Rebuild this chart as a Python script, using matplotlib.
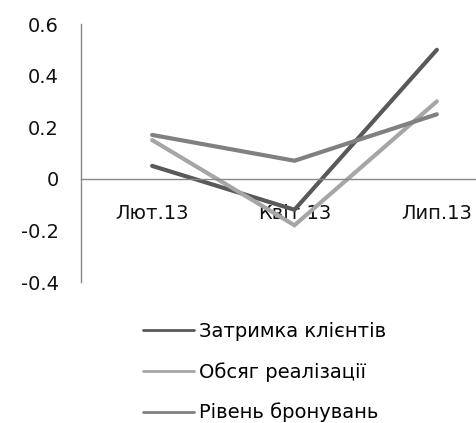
import matplotlib
matplotlib.use("Agg")
import matplotlib.pyplot as plt

categories = ["Лют.13", "Квіт.13", "Лип.13"]
series_names = ["Затримка клієнтів", "Обсяг реалізації", "Рівень бронувань"]
zatrymka = [0.05, -0.12, 0.50]
obsyag = [0.15, -0.18, 0.30]
riven = [0.17, 0.07, 0.25]
y_ticks = [-0.4, -0.2, 0, 0.2, 0.4, 0.6]
y_tick_labels = ["-0.4", "-0.2", "0", "0.2", "0.4", "0.6"]

colors = ["#595959", "#a6a6a6", "#808080"]

fig = plt.figure(figsize=(4.76, 4.23), dpi=100)
ax = fig.add_axes([81/476, 1-282/423, (508-81)/476, (282-24)/423])

x = list(range(len(categories)))
for vals, name, c in zip([zatrymka, obsyag, riven], series_names, colors):
    ax.plot(x, vals, color=c, lw=3, label=name, solid_capstyle="round", solid_joinstyle="miter")

ax.set_xlim(-0.5, 2.5)
ax.set_ylim(-0.4, 0.6)
ax.set_yticks(y_ticks)
ax.set_yticklabels(y_tick_labels)
ax.set_xticks(x)
ax.set_xticklabels(categories)

for s in ["top", "right"]:
    ax.spines[s].set_visible(False)
ax.spines["bottom"].set_position(("data", 0))
for s in ["left", "bottom"]:
    ax.spines[s].set_color("#888888")
    ax.spines[s].set_linewidth(1)

ax.tick_params(axis="y", length=0, pad=16, labelsize=14, labelcolor="#111111")
ax.tick_params(axis="x", length=0, pad=18.5, labelsize=14, labelcolor="#111111")
ax.set_zorder(1)

leg = fig.legend(loc="upper left", bbox_to_anchor=(143/476, 1-322/423), frameon=False,
           fontsize=14, handlelength=2.6, handletextpad=0.3, labelspacing=1.08,
           borderpad=0, borderaxespad=0)
for h in leg.get_lines():
    h.set_linewidth(2)

fig.savefig("out.png", dpi=100)
